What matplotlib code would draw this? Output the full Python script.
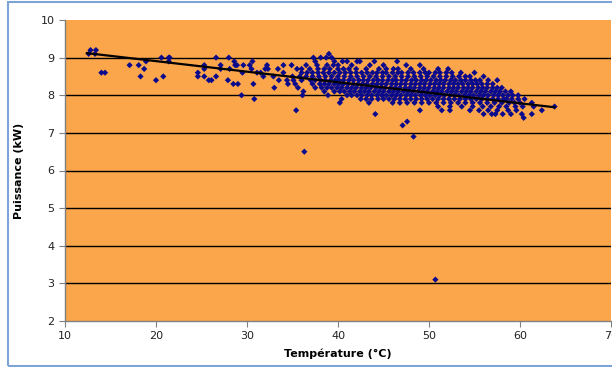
import matplotlib
matplotlib.use("Agg")
import matplotlib.pyplot as plt
from matplotlib.patches import Rectangle

# ---- data, grouped by power level (kW) ----
x_92 = [12.8, 13.4]
x_91 = [12.6, 13.3, 39.0]
x_90 = [20.6, 21.4, 21.5, 26.6, 28.0, 37.3, 38.1, 38.7, 39.3]
x_89 = [18.9, 21.4, 28.6, 30.6, 37.5, 39.6, 40.5, 41.0, 42.1, 42.4, 44.0, 46.5]
x_88 = [17.1, 18.1, 25.3, 27.1, 28.7, 28.9, 29.6, 30.3, 32.2, 34.0, 34.9, 36.5,
        37.7, 38.8, 39.5, 40.0, 41.5, 43.5, 45.0, 47.5, 49.0]
x_87 = [18.7, 25.3, 27.1, 28.1, 30.5, 32.0, 32.3, 33.4, 35.5, 36.0, 36.9, 37.8,
        38.5, 39.1, 40.0, 40.6, 41.2, 42.0, 43.1, 44.5, 45.3, 46.1, 46.6, 48.0,
        49.4, 51.0, 52.1]
x_86 = [14.0, 14.4, 24.6, 29.5, 31.1, 31.5, 34.0, 36.0, 36.6, 37.2, 37.8, 38.4,
        39.0, 39.6, 40.2, 40.8, 41.4, 42.0, 42.6, 43.2, 43.8, 44.3, 44.9, 45.3,
        46.0, 46.6, 47.0, 47.7, 48.3, 49.0, 49.6, 50.0, 50.7, 51.2, 51.9, 52.5,
        53.5, 55.0]
x_85 = [18.3, 20.8, 24.6, 25.3, 26.6, 31.8, 32.9, 35.0, 35.8, 36.5, 37.2, 37.9,
        38.6, 39.3, 40.0, 40.7, 41.4, 42.1, 42.8, 43.5, 44.2, 44.9, 45.6, 46.3,
        47.0, 47.7, 48.4, 49.1, 49.8, 50.5, 51.2, 51.9, 52.6, 53.3, 54.0, 54.5,
        56.0]
x_84 = [20.0, 25.8, 26.1, 27.9, 33.5, 34.4, 35.1, 36.0, 37.0, 37.5, 38.1, 38.6,
        39.2, 39.7, 40.1, 40.6, 41.2, 41.7, 42.3, 42.8, 43.3, 43.9, 44.4, 44.9,
        45.5, 46.0, 46.4, 47.0, 47.5, 48.1, 48.6, 49.2, 49.7, 50.2, 50.8, 51.3,
        51.8, 52.4, 52.9, 53.5, 54.0, 54.6, 55.1, 55.6, 56.5, 57.5]
x_83 = [28.5, 29.0, 30.7, 34.5, 35.3, 37.2, 38.0, 38.5, 39.0, 39.6, 40.1, 40.6,
        41.1, 41.7, 42.2, 42.7, 43.2, 43.8, 44.3, 44.8, 45.3, 45.9, 46.4, 46.9,
        47.4, 48.0, 48.5, 49.0, 49.5, 50.1, 50.6, 51.1, 51.6, 52.2, 52.7, 53.2,
        53.7, 54.3, 54.8, 55.3, 55.8, 56.4, 57.0]
x_82 = [33.0, 35.6, 37.5, 38.2, 38.8, 39.3, 39.9, 40.4, 41.0, 41.5, 42.0, 42.6,
        43.1, 43.6, 44.2, 44.7, 45.2, 45.8, 46.3, 46.8, 47.4, 47.9, 48.4, 49.0,
        49.5, 50.0, 50.6, 51.1, 51.6, 52.2, 52.7, 53.2, 53.8, 54.3, 54.8, 55.4,
        55.9, 56.4, 57.0, 57.5, 58.0]
x_81 = [36.2, 38.5, 39.6, 40.2, 40.7, 41.3, 41.8, 42.4, 42.9, 43.4, 44.0, 44.5,
        45.0, 45.6, 46.1, 46.6, 47.2, 47.7, 48.2, 48.8, 49.3, 49.8, 50.4, 50.9,
        51.4, 52.0, 52.5, 53.0, 53.6, 54.1, 54.6, 55.2, 55.7, 56.2, 56.8, 57.3,
        57.8, 58.4, 59.0]
x_80 = [29.4, 36.1, 38.9, 41.0, 41.5, 42.1, 42.6, 43.2, 43.7, 44.3, 44.8, 45.3,
        45.9, 46.4, 46.9, 47.5, 48.0, 48.5, 49.1, 49.6, 50.1, 50.7, 51.2, 51.7,
        52.3, 52.8, 53.3, 53.9, 54.4, 54.9, 55.5, 56.0, 56.5, 57.1, 57.6, 58.1,
        58.7, 59.2, 59.8]
x_79 = [30.8, 40.4, 42.5, 43.1, 43.7, 44.4, 45.0, 45.6, 46.2, 46.8, 47.4, 48.0,
        48.6, 49.2, 49.8, 50.4, 51.0, 51.6, 52.2, 52.8, 53.4, 54.0, 54.6, 55.2,
        55.8, 56.4, 57.0, 57.6, 58.2, 58.5, 59.1, 59.8, 60.5]
x_78 = [40.2, 43.4, 46.0, 46.8, 47.6, 48.4, 49.2, 50.0, 50.8, 51.6, 52.4, 53.2,
        54.0, 54.8, 55.6, 56.4, 57.2, 58.0, 58.8, 59.4, 60.0, 61.3]
x_77 = [51.0, 52.3, 53.6, 54.8, 55.9, 56.8, 57.7, 58.5, 59.5, 60.3, 61.5, 63.8]
x_76 = [35.4, 49.0, 51.4, 52.3, 54.5, 55.5, 56.5, 57.5, 58.7, 59.6, 62.4]
x_75 = [44.1, 56.0, 56.9, 57.3, 58.1, 59.0, 60.2, 61.3]
x_74 = [60.4]
x_73 = [47.6]
x_72 = [47.1]
x_69 = [48.3]
x_65 = [36.3]
x_31 = [50.7]

levels = [9.2, 9.1, 9.0, 8.9, 8.8, 8.7, 8.6, 8.5, 8.4, 8.3, 8.2, 8.1, 8.0,
          7.9, 7.8, 7.7, 7.6, 7.5, 7.4, 7.3, 7.2, 6.9, 6.5, 3.1]
groups = [x_92, x_91, x_90, x_89, x_88, x_87, x_86, x_85, x_84, x_83, x_82,
          x_81, x_80, x_79, x_78, x_77, x_76, x_75, x_74, x_73, x_72, x_69,
          x_65, x_31]

# linear trend line (Excel-style) coefficients
trend_slope = -0.0280
trend_intercept = 9.467
trend_x = [12.4, 63.8]

x_ticks = [10, 20, 30, 40, 50, 60, 70]
y_ticks = [2, 3, 4, 5, 6, 7, 8, 9, 10]

temps = []
powers = []
for lv, xs in zip(levels, groups):
    temps.extend(xs)
    powers.extend([lv] * len(xs))

fig = plt.figure(figsize=(6.12, 3.67), dpi=100)
fig.patch.set_facecolor("white")
fig.patches.append(Rectangle((8 / 612, 1.5 / 367), 1.0, 364 / 367,
                             transform=fig.transFigure, fill=False,
                             edgecolor="#7ea3d6", linewidth=1.5))

ax = fig.add_axes([65 / 612, 1 - 321 / 367, 546 / 612, 301 / 367])
ax.set_facecolor("#fca64c")
ax.set_xlim(10, 70)
ax.set_ylim(2, 10)
ax.set_xticks(x_ticks)
ax.set_yticks(y_ticks)
for v in y_ticks[1:-1]:
    ax.axhline(v, color="black", linewidth=1.0, zorder=1)

ax.scatter(temps, powers, marker="D", s=10, color="#0a0a8c",
           edgecolors="none", zorder=3)
ty = [trend_intercept + trend_slope * t for t in trend_x]
ax.plot(trend_x, ty, color="black", linewidth=1.6, zorder=4)

for s in ["top", "right"]:
    ax.spines[s].set_visible(False)
for s in ["left", "bottom"]:
    ax.spines[s].set_color("#808080")
    ax.spines[s].set_linewidth(1.0)
ax.tick_params(axis="both", direction="out", length=4, width=0.8,
               color="#808080", labelsize=8, labelcolor="#222222")
ax.set_xlabel("Température (°C)", fontsize=8, fontweight="bold", labelpad=5)
ax.set_ylabel("Puissance (kW)", fontsize=8, fontweight="bold", labelpad=12)

fig.savefig("out.png", dpi=100)
